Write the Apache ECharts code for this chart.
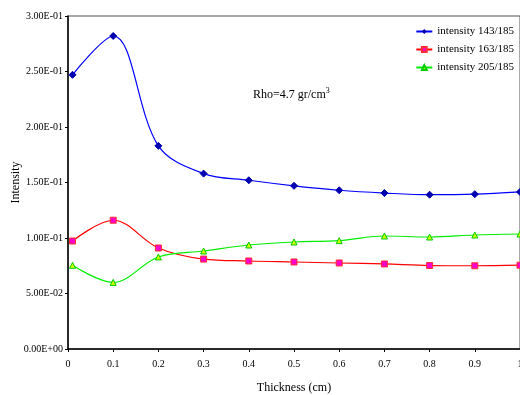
<!DOCTYPE html>
<html>
<head>
<meta charset="utf-8">
<script src="https://cdn.jsdelivr.net/npm/echarts@6/dist/echarts.min.js"></script>
<style>
  html, body { margin: 0; padding: 0; background: #fff; }
  #chart { width: 520px; height: 395px; }
</style>
</head>
<body>
<div id="chart"></div>
<script>
// thickness (cm)
const thickness = [0.01, 0.1, 0.2, 0.3, 0.4, 0.5, 0.6, 0.7, 0.8, 0.9, 1.0]
const int143 = [0.247, 0.282, 0.183, 0.158, 0.152, 0.147, 0.143, 0.1405, 0.139, 0.1395, 0.1415]
const int163 = [0.0973, 0.116, 0.091, 0.081, 0.0793, 0.0784, 0.0775, 0.0766, 0.0752, 0.075, 0.0755]
const int205 = [0.0754, 0.060, 0.0829, 0.0883, 0.0937, 0.0964, 0.0976, 0.1018, 0.1009, 0.1027, 0.1036]
const seriesNames = ["intensity 143/185", "intensity 163/185", "intensity 205/185"]

const serif = "Liberation Serif"

function sci(v) {
  if (v === 0) return "0.00E+00"
  const [m, e] = v.toExponential(2).split("e")
  const n = parseInt(e, 10)
  const sign = n < 0 ? "-" : "+"
  const abs = Math.abs(n)
  return m + "E" + sign + (abs < 10 ? "0" + abs : abs)
}

function pairs(ys) {
  return thickness.map((x, i) => [x, ys[i]])
}

const chart = echarts.init(document.getElementById("chart"))
chart.setOption({
  animation: false,
  backgroundColor: "#fff",
  textStyle: { fontFamily: serif },
  grid: {
    left: 68, right: 0, top: 16, bottom: 46,
    outerBoundsMode: "none",
    show: true, borderColor: "#555", borderWidth: 1
  },
  legend: {
    orient: "vertical",
    right: 1,
    top: 21,
    itemGap: 7,
    itemWidth: 16,
    itemHeight: 6,
    textStyle: { fontFamily: serif, fontSize: 11, color: "#000" },
    data: seriesNames
  },
  xAxis: {
    type: "value",
    min: 0, max: 1, interval: 0.1,
    name: "Thickness (cm)",
    nameLocation: "middle",
    nameGap: 33,
    nameTextStyle: { fontFamily: serif, fontSize: 12, color: "#000" },
    axisLine: { lineStyle: { color: "#000", width: 1.5 } },
    axisTick: { length: 3, lineStyle: { color: "#000" } },
    axisLabel: { fontFamily: serif, fontSize: 10, color: "#000", margin: 10,
      formatter: v => String(Math.round(v * 10) / 10) },
    splitLine: { show: false }
  },
  yAxis: {
    type: "value",
    min: 0, max: 0.3, interval: 0.05,
    name: "Intensity",
    nameLocation: "middle",
    nameGap: 46,
    nameMoveOverlap: false,
    nameTextStyle: { fontFamily: serif, fontSize: 12, color: "#000" },
    axisLine: { show: true, lineStyle: { color: "#000", width: 1.5 } },
    axisTick: { show: true, length: 3, lineStyle: { color: "#000" } },
    axisLabel: { fontFamily: serif, fontSize: 10, color: "#000", margin: 5, formatter: sci },
    splitLine: { show: false }
  },
  graphic: [{
    type: "text",
    left: 253,
    top: 87,
    style: {
      text: "{b|Rho=4.7 gr/cm}{s|3}",
      rich: {
        b: { fontFamily: serif, fontSize: 12, fill: "#000", verticalAlign: "bottom" },
        s: { fontFamily: serif, fontSize: 8, fill: "#000", verticalAlign: "top", padding: [0, 0, 6, 0] }
      }
    }
  }],
  series: [
    {
      name: seriesNames[0], type: "line", smooth: 0.35,
      data: pairs(int143),
      symbol: "diamond", symbolSize: 7,
      lineStyle: { color: "#0000ff", width: 1.2 },
      itemStyle: { color: "#0000b0", borderColor: "#0000b0" }
    },
    {
      name: seriesNames[1], type: "line", smooth: 0.35,
      data: pairs(int163),
      symbol: "rect", symbolSize: 6,
      lineStyle: { color: "#ff0000", width: 1.2 },
      itemStyle: { color: "#ff00cc", borderColor: "#ff3030", borderWidth: 1 }
    },
    {
      name: seriesNames[2], type: "line", smooth: 0.35,
      data: pairs(int205),
      symbol: "triangle", symbolSize: 6,
      lineStyle: { color: "#00ee00", width: 1.2 },
      itemStyle: { color: "#ccff00", borderColor: "#00cc00", borderWidth: 1 }
    }
  ]
})
</script>
</body>
</html>
